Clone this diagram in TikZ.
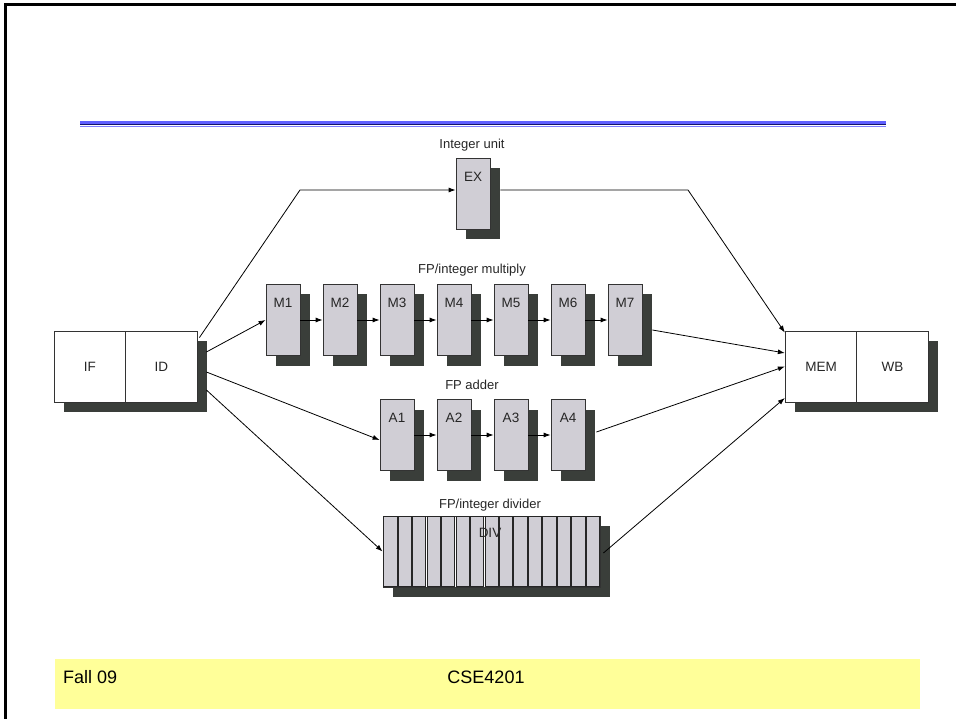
\documentclass[tikz,border=0pt]{standalone}
\usepackage{fontspec}
\setmainfont{Liberation Sans}
\usetikzlibrary{arrows.meta,shadows,calc}
\definecolor{shadowc}{RGB}{58,62,58}
\definecolor{boxc}{RGB}{208,206,213}
\definecolor{footy}{RGB}{255,255,153}
\definecolor{bluel}{RGB}{96,96,255}
\definecolor{navyc}{RGB}{20,20,110}
\begin{document}
\begin{tikzpicture}[x=1pt,y=-1pt,
  shadowed/.style={drop shadow={shadow xshift=10pt, shadow yshift=-10pt, shadow scale=1, fill=shadowc, opacity=1}},
  stagebox/.style={draw=black!80, line width=0.8pt, minimum width=34pt, minimum height=71pt, inner sep=0pt,
    fill=boxc, shadowed},
  stagelabel/.style={font=\fontsize{13.5}{15}\selectfont, text=black!85, anchor=center, yshift=-19pt},
  plainbox/.style={draw=black!80, line width=0.8pt, fill=white, minimum width=71.5pt, minimum height=71pt,
    inner sep=0pt, font=\fontsize{13.5}{15}\selectfont, text=black!85},
  titletext/.style={font=\fontsize{13}{15}\selectfont, text=black!85, inner sep=0pt},
  conn/.style={line width=0.8pt, draw=black},
  arr/.style={conn, -{Latex[length=7pt,width=5pt]}},
  foottext/.style={font=\fontsize{18}{20}\selectfont, inner sep=0pt}
]
\useasboundingbox (0,0) rectangle (956,719);
% frame
\draw[line width=3pt] (5,719) -- (5,5) -- (956,5);
% blue title rule
\fill[bluel] (80,121.5) rectangle (886,124);
\fill[navyc] (80,124.4) rectangle (886,125.4);
\fill[bluel!80] (80,125.8) rectangle (886,127);
% footer
\fill[footy] (55,659) rectangle (920,709);
\node[foottext, anchor=west] (fall) at (63,677) {Fall 09};
\node[foottext] (cse) at (486,677) {CSE4201};

% IF / ID and MEM / WB
\node[plainbox, shadowed] (if) at (89.75,366.5) {IF};
\node[plainbox, shadowed] (id) at (161.25,366.5) {ID};
\node[plainbox, shadowed] (mem) at (821,366.5) {MEM};
\node[plainbox, shadowed] (wb) at (892.5,366.5) {WB};

% titles
\node[titletext] (tint) at (472,145) {Integer unit};
\node[titletext] (tmul) at (472,270) {FP/integer multiply};
\node[titletext] (tadd) at (472,385) {FP adder};
\node[titletext] (tdiv) at (490,505) {FP/integer divider};

% EX
\node[stagebox, label={[stagelabel]north:EX}] (ex) at (473,193.5) {};
% multiply
\foreach \i in {1,...,7}
  \node[stagebox, label={[stagelabel]north:M\i}] (m\i) at ({283+57*(\i-1)},320) {};
% adder
\foreach \i in {1,...,4}
  \node[stagebox, label={[stagelabel]north:A\i}] (a\i) at ({283+57*(\i+1)},435) {};
% divider
\node[draw=black!80, line width=0.8pt, fill=white, minimum width=217pt, minimum height=71pt, inner sep=0pt, shadowed] (div) at (491.5,551.5) {};
\foreach \k in {0,...,14}
  \filldraw[draw=black!85, line width=0.7pt, fill=boxc]
    ({383+\k*14.467+0.6},516.6) rectangle ({383+(\k+1)*14.467-0.6},586.4);
\node[font=\fontsize{13.5}{15}\selectfont, text=black!85, inner sep=0pt] (divl) at (490,533) {DIV};

% pipeline internal arrows
\foreach \i [evaluate=\i as \j using int(\i+1)] in {1,...,6}
  \draw[arr] (m\i.east) -- (m\j.west);
\foreach \i [evaluate=\i as \j using int(\i+1)] in {1,...,3}
  \draw[arr] (a\i.east) -- (a\j.west);

% from ID
\coordinate (b1) at (300,190);
\draw[arr] ([xshift=2pt,yshift=-7pt]id.north east) -- (b1) -- ([yshift=3.5pt]ex.west);
\draw[arr] ([xshift=9pt,yshift=14.5pt]id.east) -- (m1.west);
\draw[arr] ([xshift=9pt,yshift=-5.5pt]id.east) -- ([yshift=-5pt]a1.west);
\draw[arr] ([xshift=9pt,yshift=-23.5pt]id.east) -- (div.west);

% to MEM
\coordinate (b2) at (688,190);
\draw[arr] ([xshift=10pt,yshift=3.5pt]ex.east) -- (b2) -- ([yshift=-2pt]mem.north west);
\draw[arr] ([xshift=10pt,yshift=-10pt]m7.east) -- ([yshift=13.5pt]mem.west);
\draw[arr] ([xshift=11pt,yshift=3pt]a4.east) -- (mem.west);
\draw[arr] ([xshift=3pt,yshift=-1.5pt]div.east) -- ([yshift=-31.5pt]mem.west);
\end{tikzpicture}
\end{document}
